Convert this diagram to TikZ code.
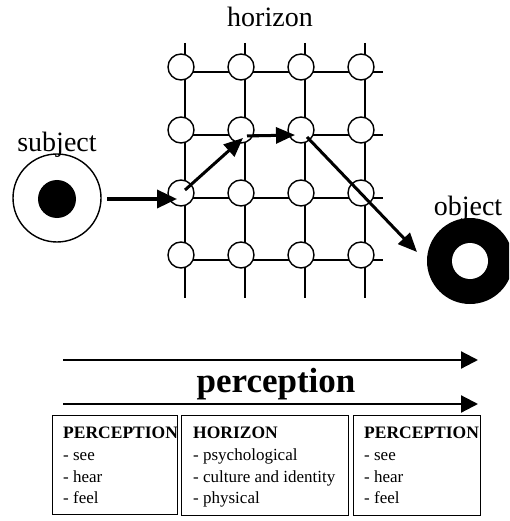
\documentclass[tikz,border=0pt]{standalone}
\usepackage{fontspec}
\setmainfont{Liberation Serif}
\usetikzlibrary{arrows.meta}
\begin{document}
\begin{tikzpicture}[x=1pt,y=-1pt,
  gridline/.style={line width=1.5pt},
  vtx/.style={circle,draw,line width=1.4pt,fill=white,minimum size=26pt,inner sep=0pt},
  bigarrow/.style={line width=3.5pt,-{Triangle[length=20pt,width=18pt]}},
  patharrow/.style={line width=3pt,-{Triangle[length=19pt,width=16pt]}},
  percarrow/.style={line width=2.2pt,-{Triangle[length=17pt,width=17pt]}},
  infobox/.style={draw,line width=1.3pt,inner sep=0pt},
  biglabel/.style={font=\fontsize{28}{28}\selectfont,inner sep=0pt,anchor=base},
  headtext/.style={font=\fontsize{17.5}{20}\selectfont\bfseries,inner sep=0pt,anchor=base west},
  itemtext/.style={font=\fontsize{17}{20}\selectfont,inner sep=0pt,anchor=base west}]
\useasboundingbox (0,0) rectangle (509,521);

% grid lines
\foreach \x in {185,245,305,365} \draw[gridline] (\x,43) -- (\x,298);
\foreach \y in {72,135,198,260} \draw[gridline] (185,\y) -- (383,\y);

% grid circles
\foreach \x [count=\i] in {181,241,301,361}
  \foreach \y [count=\j] in {67,130,193,255}
    \node[vtx] (c\j\i) at (\x,\y) {};

\node[biglabel] (hor) at (270,27) {horizon};

% subject
\node[circle,draw,line width=1.4pt,minimum size=88pt,inner sep=0pt] (subj) at (57,198) {};
\node[circle,fill=black,minimum size=38pt,inner sep=0pt] (subjcore) at (57,199) {};
\node[biglabel] (subjlab) at (57,152) {subject};

% object
\begin{scope}
\clip (0,0) rectangle (509,521);
\node[circle,fill=black,minimum size=86pt,inner sep=0pt] (obj) at (470,261) {};
\node[circle,fill=white,minimum size=36pt,inner sep=0pt] (objhole) at (470,261) {};
\end{scope}
\node[biglabel] (objlab) at (468,215) {object};

% path arrows
\coordinate (p0) at (107,199);
\coordinate (p1) at (177,199);
\coordinate (p2) at (185,190);
\coordinate (p3) at (243,138);
\coordinate (p4) at (247,136);
\coordinate (p5) at (295,135);
\coordinate (p6) at (307,137);
\coordinate (p7) at (417,252);
\draw[bigarrow] (p0) -- (p1);
\draw[patharrow] (p2) -- (p3);
\draw[patharrow] (p4) -- (p5);
\draw[patharrow] (p6) -- (p7);

% perception arrows
\coordinate (q1s) at (63,360);
\coordinate (q1e) at (478,360);
\coordinate (q2s) at (63,404);
\coordinate (q2e) at (478,404);
\draw[percarrow] (q1s) -- (q1e);
\draw[percarrow] (q2s) -- (q2e);
\node[font=\fontsize{35}{35}\selectfont\bfseries,inner sep=0pt,anchor=base] (perc) at (276,392) {perception};

% boxes
\node[infobox,anchor=north west,minimum width=125pt,minimum height=99pt] (b1) at (52,415) {};
\node[infobox,anchor=north west,minimum width=167pt,minimum height=100pt] (b2) at (181,415) {};
\node[infobox,anchor=north west,minimum width=127pt,minimum height=100pt] (b3) at (353,415) {};

\node[headtext] (b1h) at (63,438) {PERCEPTION};
\node[itemtext] (b1a) at (63,460) {- see};
\node[itemtext] (b1b) at (63,482) {- hear};
\node[itemtext] (b1c) at (63,503) {- feel};

\node[headtext] (b2h) at (193,438) {HORIZON};
\node[itemtext] (b2a) at (193,460) {- psychological};
\node[itemtext] (b2b) at (193,482) {- culture and identity};
\node[itemtext] (b2c) at (193,503) {- physical};

\begin{scope}
\clip (353,415) rectangle (480,515);
\node[headtext] (b3h) at (364,438) {PERCEPTION};
\end{scope}
\node[itemtext] (b3a) at (364,460) {- see};
\node[itemtext] (b3b) at (364,482) {- hear};
\node[itemtext] (b3c) at (364,503) {- feel};
\end{tikzpicture}
\end{document}
